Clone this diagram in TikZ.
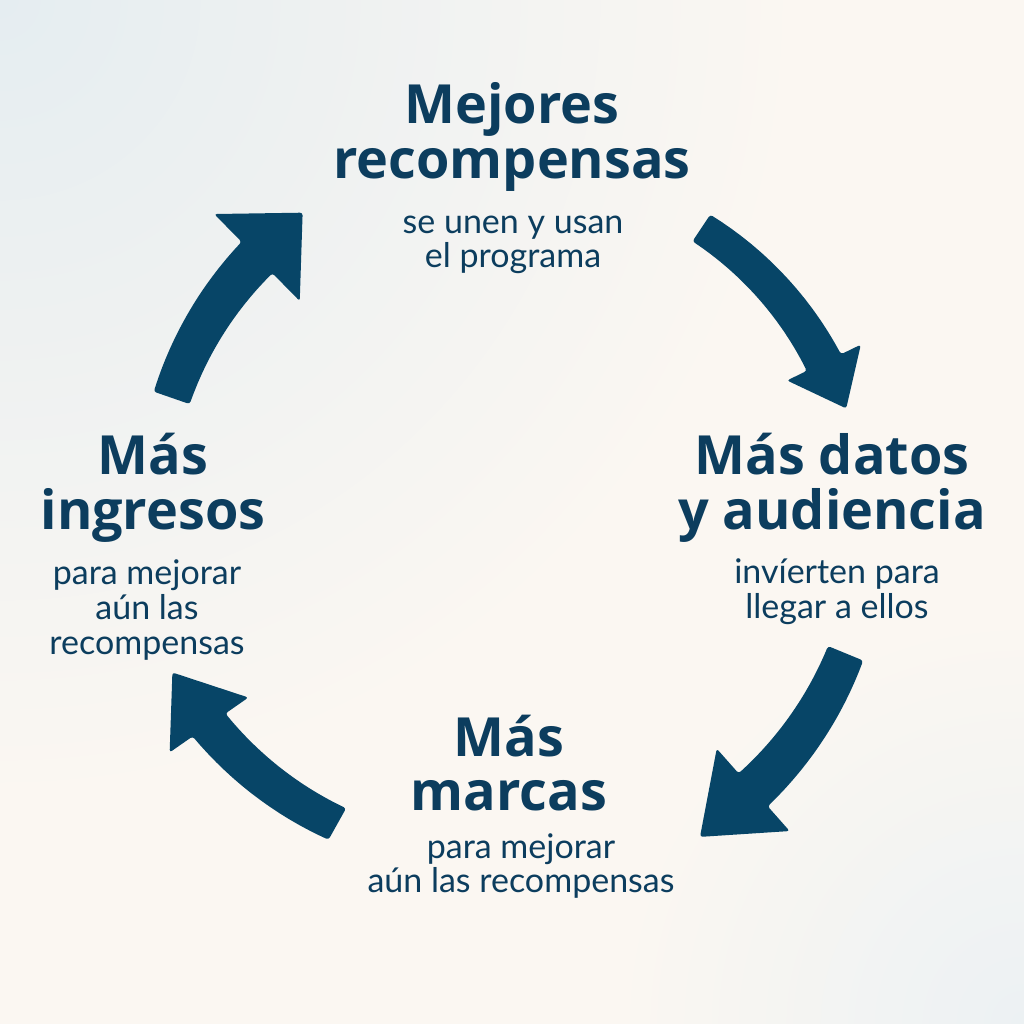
\documentclass[tikz,border=0pt]{standalone}
\usepackage{fontspec}
\setmainfont{Lato}
\newfontfamily\titulofont{Open Sans}
\usepackage{tikz}

\definecolor{flechaazul}{RGB}{7,69,103}
\definecolor{textoazul}{RGB}{12,61,94}
\definecolor{fondoazul}{RGB}{229,237,241}
\definecolor{fondoclaro}{RGB}{236,241,243}
\definecolor{fondocrema}{RGB}{251,247,242}

\pgfdeclareradialshading{esquinaazul}{\pgfpoint{0bp}{0bp}}{color(0bp)=(fondoazul); color(20bp)=(fondocrema); color(50bp)=(fondocrema)}
\pgfdeclareradialshading{esquinaclara}{\pgfpoint{0bp}{0bp}}{color(0bp)=(fondoclaro); color(17bp)=(fondocrema); color(50bp)=(fondocrema)}

\tikzset{
	titulo/.style={font=\titulofont\fontsize{40.5}{41}\selectfont\bfseries,text=textoazul,align=center,inner sep=0pt},
	nota/.style={font=\fontsize{25.5}{26}\selectfont,text=textoazul,align=center,inner sep=0pt},
	flecha/.style={fill=flechaazul,rounded corners=2pt}
}

% angles, radii, widths, head half width, head length
\newcommand{\flechaciclo}[8]{%
	\fill[flecha]
		plot[domain=0:1,samples=16] ({#1+\x*(#2-#1)}:{#3+\x*(#4-#3)+(#5+\x*(#6-#5))/2})
		-- ({#2}:{#4+#7})
		-- ({#2+atan(#8/#4)}:{100*sqrt((#4/100)^2+(#8/100)^2)})
		-- ({#2}:{#4-#7})
		-- plot[domain=1:0,samples=16] ({#1+\x*(#2-#1)}:{#3+\x*(#4-#3)-(#5+\x*(#6-#5))/2})
		-- cycle;
}

\begin{document}
\begin{tikzpicture}[x=0.75pt,y=-0.75pt]
		\useasboundingbox (0,0) rectangle (1024,1024);
		\begin{scope}
			\clip (0,0) rectangle (1024,1024);
			\fill[fondocrema] (0,0) rectangle (1024,1024);
			\shade[shading=esquinaazul] (0,0) circle (1000);
			\shade[shading=esquinaclara] (1024,1024) circle (600);
		\end{scope}

		\begin{scope}[shift={(510,515)}]
			\flechaciclo{199.1}{225.5}{358}{361}{38}{44}{61}{64}
			\flechaciclo{303.7}{334.1}{345}{349}{32}{38}{41}{51}
			\flechaciclo{22.4}{48.5}{363}{367}{38}{44}{55}{71}
			\flechaciclo{119.2}{145.1}{354}{367}{36}{40}{48}{64}
		\end{scope}

		\node[titulo] (mejores) at (512,137) {Mejores\\recompensas};
		\node[nota] (mejoresnota) at (513,245) {se unen y usan\\el programa};
		\node[titulo] (datos) at (832,488) {Más datos\\y audiencia};
		\node[nota] (datosnota) at (837,592) {invíerten para\\llegar a ellos};
		\node[titulo] (marcas) at (509,763) {Más\\marcas};
		\node[nota] (marcasnota) at (521,866) {para mejorar\\aún las recompensas};
		\node[titulo] (ingresos) at (153,488) {Más\\ingresos};
		\node[nota] (ingresosnota) at (147,610) {para mejorar\\aún las\\recompensas};
\end{tikzpicture}
\end{document}
